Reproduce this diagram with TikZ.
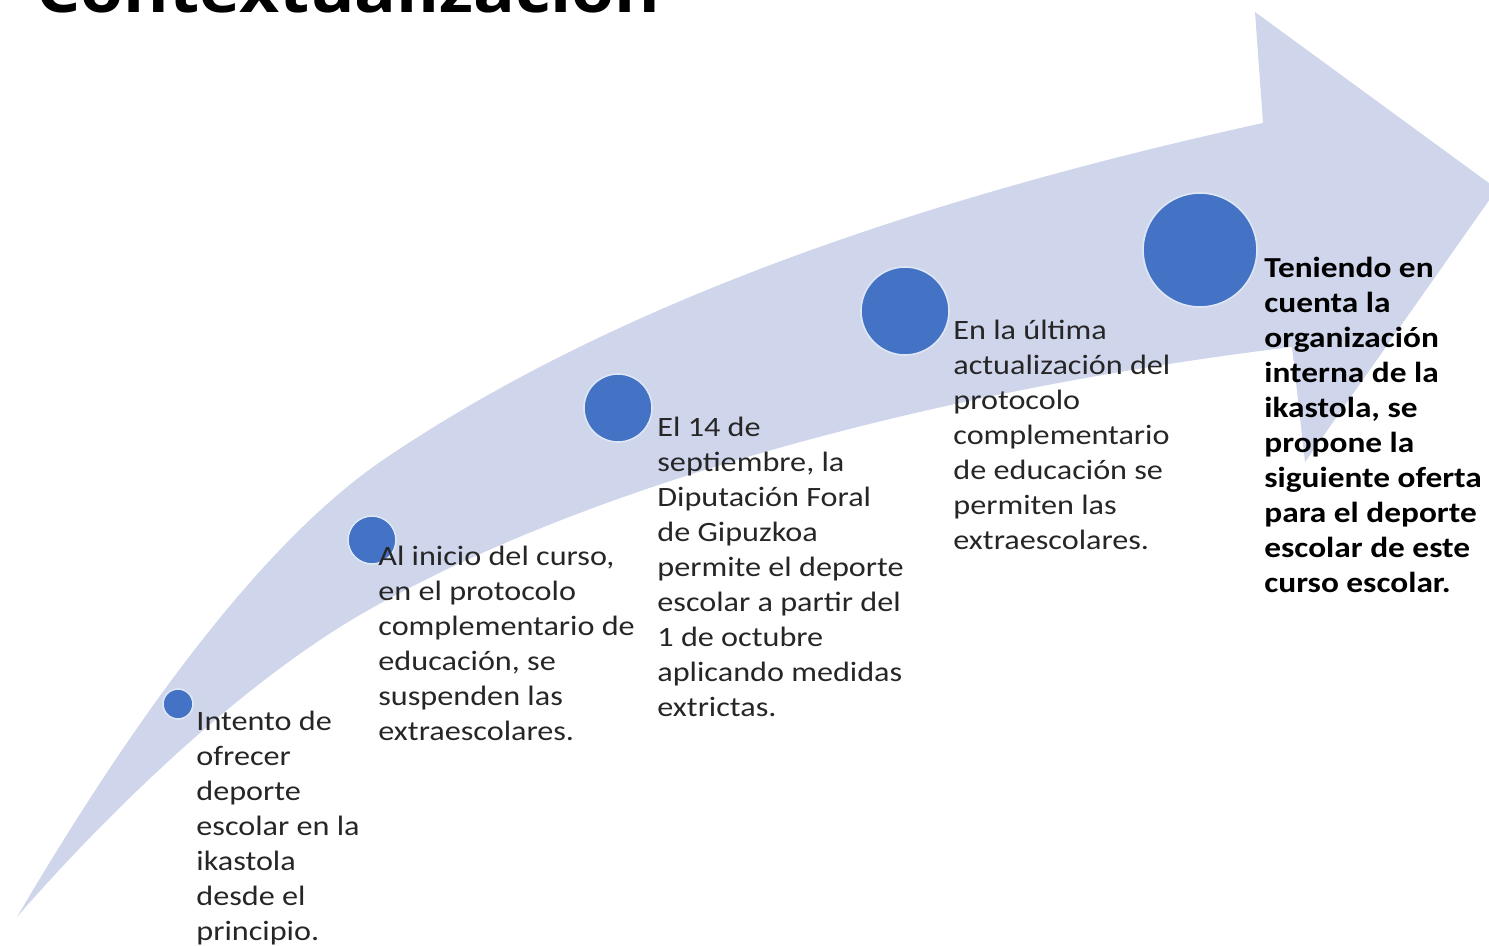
\documentclass[tikz,border=0pt]{standalone}
\usepackage{fontspec}
\setmainfont{Carlito}[FakeStretch=1.15]
\newfontfamily\titlefont{Open Sans}[FakeStretch=1.12]
\usetikzlibrary{positioning}

\definecolor{bandblue}{RGB}{207,213,234}
\definecolor{dotblue}{RGB}{68,114,196}
\definecolor{dotrim}{RGB}{222,231,246}
\definecolor{inkgray}{RGB}{38,38,38}

\tikzset{
  band/.style={fill=bandblue, draw=none},
  milestone/.style={circle, fill=dotblue, draw=dotrim, line width=0.8pt, inner sep=0pt},
  note/.style={anchor=north west, inner sep=0pt, align=left, text=inkgray, font=\fontsize{14}{17.5}\selectfont},
  notebold/.style={note, text=black, font=\fontsize{14.5}{17.5}\selectfont\bfseries},
}

\begin{document}
\begin{tikzpicture}[x=0.5pt, y=-0.5pt]
  \useasboundingbox (0,0) rectangle (1489,946);
  \clip (0,0) rectangle (1489,946);

  % title, cut off by the top edge
  \node[anchor=base west, inner sep=0pt, font=\titlefont\bfseries\fontsize{31}{37}\selectfont] (title) at (36,13) {Contextualización};

  % the curved arrow
  \fill[band] (17,917) .. controls (137,713) and (263,542) .. (383,460)
    .. controls (633,290) and (963,189) .. (1263,123)
    -- (1255,12) -- (1497,189) -- (1305,462) -- (1292,347)
    .. controls (992,383) and (622,468) .. (372,608)
    .. controls (232,686) and (87,836) .. (17,917) -- cycle;

  % milestones along the arrow
  \foreach \cx/\cy/\r/\name in {178/704/15/m1, 372/540/24/m2, 618/408/34/m3, 905/311/44/m4, 1200/250/57/m5} {
    \node[milestone, minimum size=\r pt] (\name) at (\cx,\cy) {};
  }

  \node[note] (t1) at (196,705.5) {\strut Intento de\\ofrecer\\deporte\\escolar en la\\ikastola\\desde el\\principio.};
  \node[note] (t2) at (378,540.5) {\strut Al inicio del curso,\\en el protocolo\\complementario de\\educación, se\\suspenden las\\extraescolares.};
  \node[note] (t3) at (657,411.5) {\strut El 14 de\\septiembre, la\\Diputación Foral\\de Gipuzkoa\\permite el deporte\\escolar a partir del\\1 de octubre\\aplicando medidas\\extrictas.};
  \node[note] (t4) at (953,314.5) {\strut En la última\\actualización del\\protocolo\\complementario\\de educación se\\permiten las\\extraescolares.};
  \node[notebold] (t5) at (1264,252.5) {\strut Teniendo en\\cuenta la\\organización\\interna de la\\ikastola, se\\propone la\\siguiente oferta\\para el deporte\\escolar de este\\curso escolar.};

\end{tikzpicture}
\end{document}
